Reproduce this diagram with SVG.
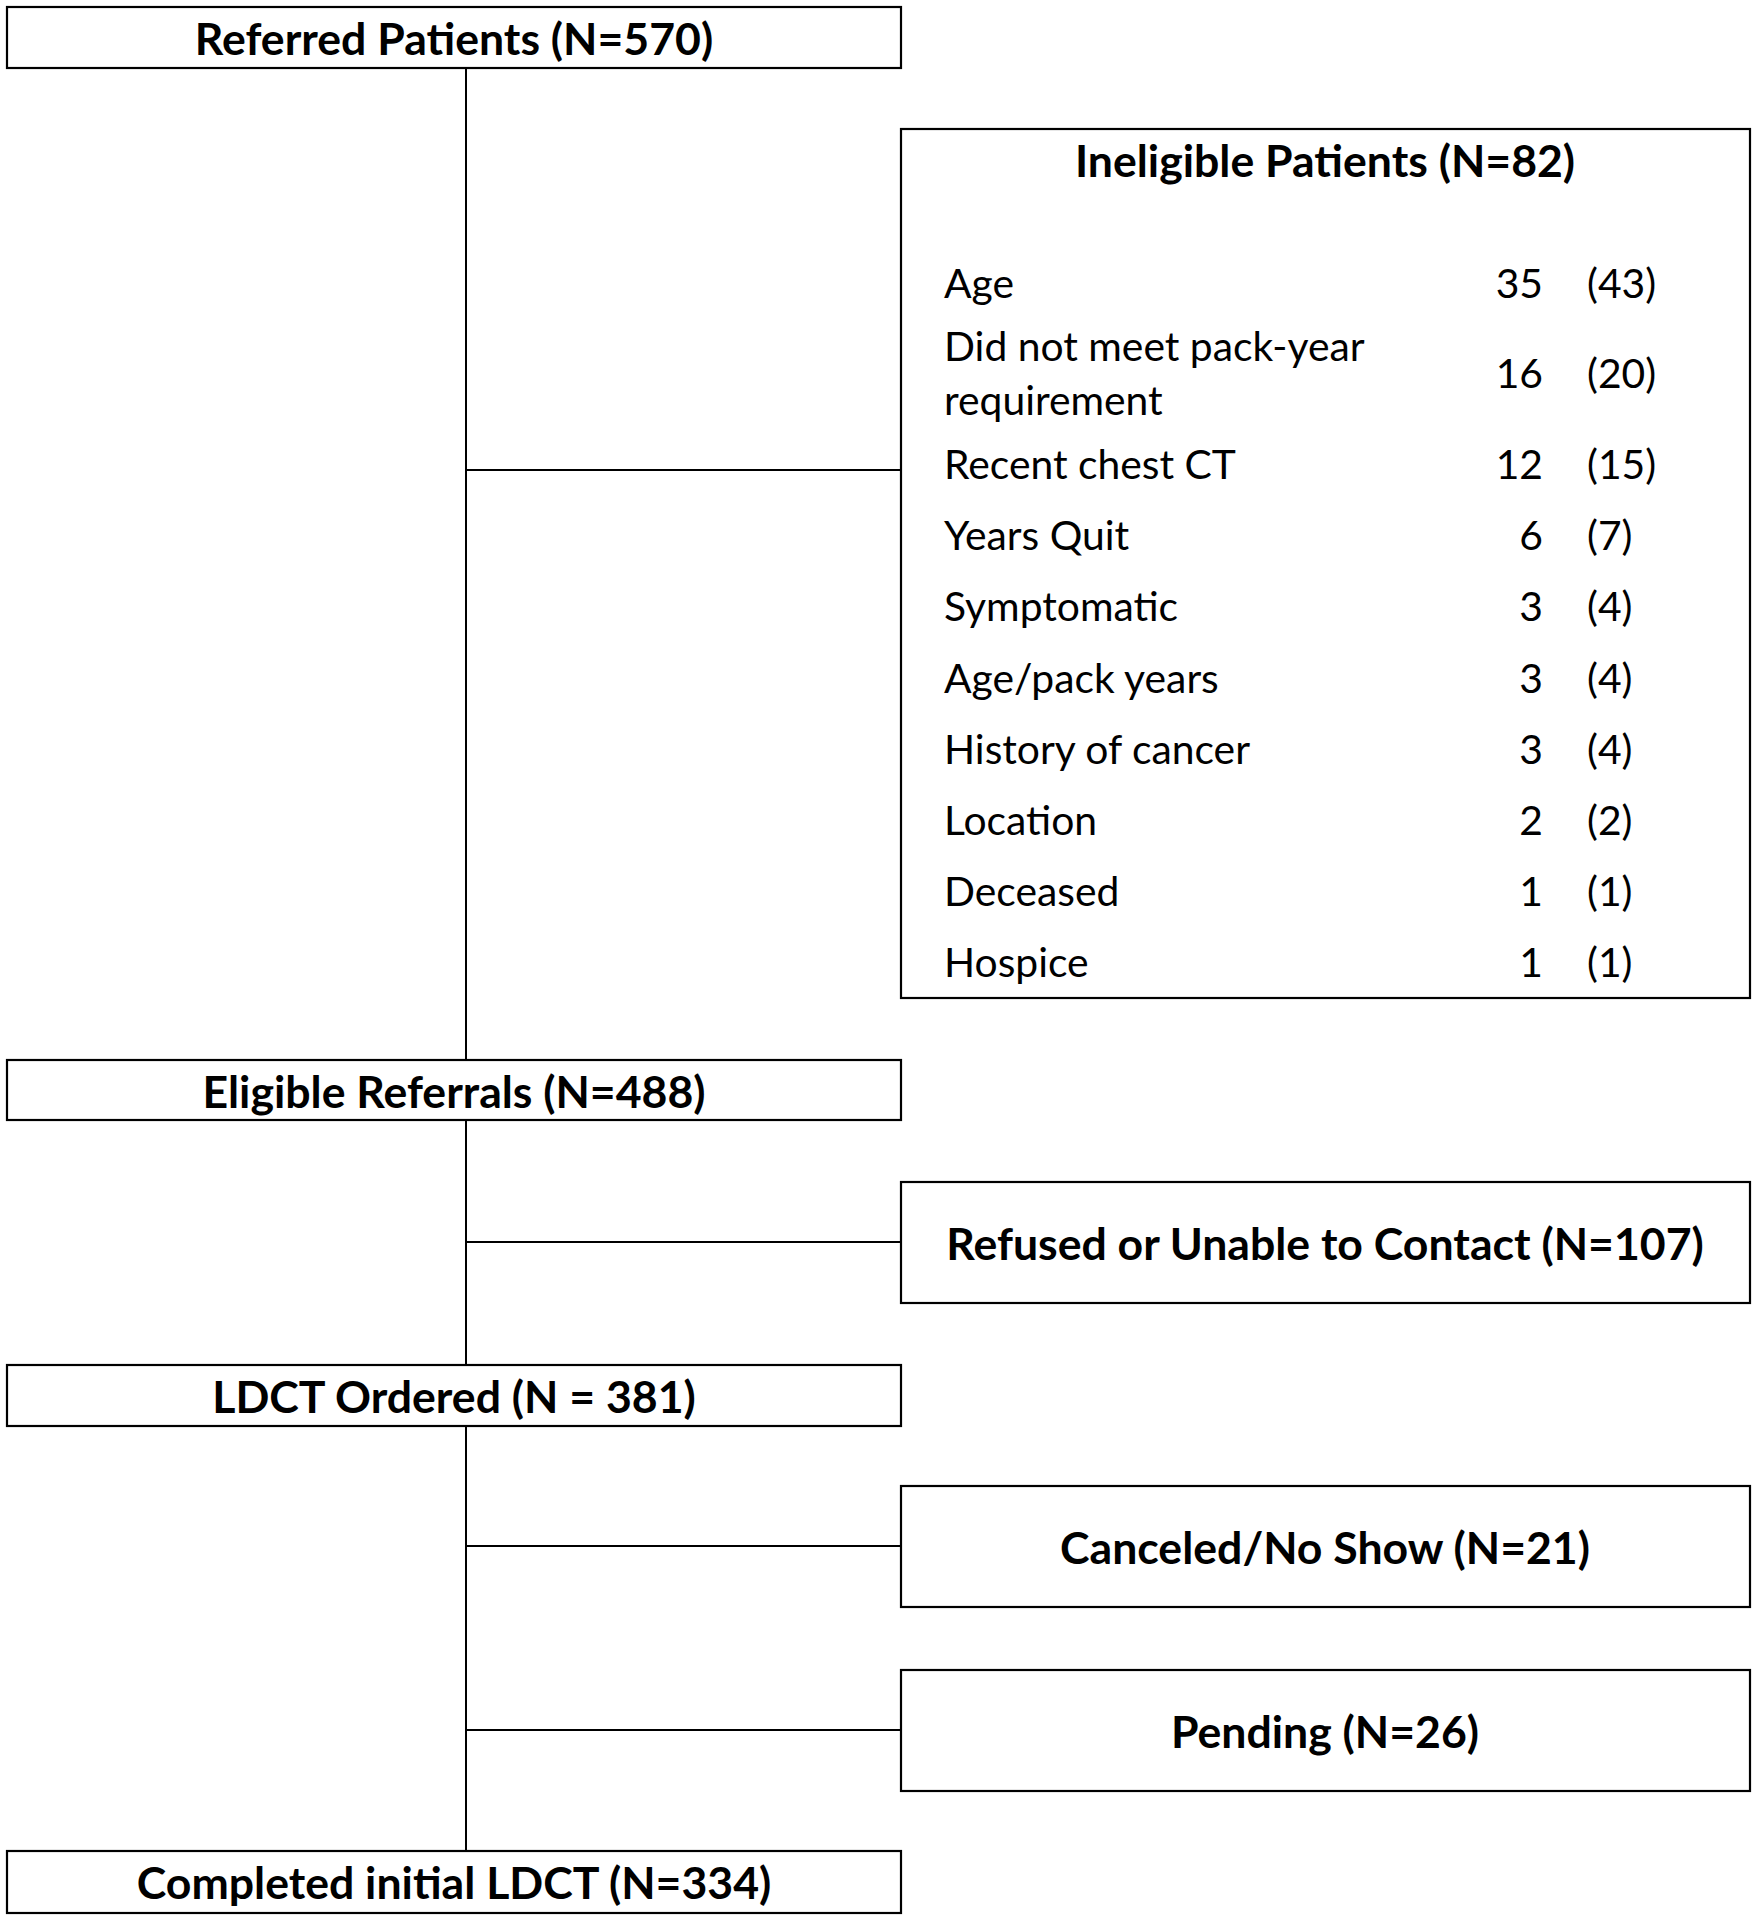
<svg xmlns="http://www.w3.org/2000/svg" width="1758" height="1920" viewBox="0 0 1758 1920">
<style>
.box{fill:#fff;stroke:#000;stroke-width:2.2}
.t{font-family:Lato,"Liberation Sans",sans-serif;font-weight:bold;font-size:44.6px;fill:#000;text-anchor:middle}
.b{font-family:Lato,"Liberation Sans",sans-serif;font-size:40.8px;fill:#000}
.n{text-anchor:end}
.line{stroke:#000;stroke-width:2;fill:none}
</style>
<rect width="1758" height="1920" fill="#fff"/>
<g id="connectors">
<path class="line" d="M466 68V1060M466 1120V1365M466 1426V1851M466 470H901M466 1242H901M466 1546H901M466 1730H901"/>
</g>
<g id="referred"><rect class="box" x="7" y="7" width="894" height="61"/><text class="t" x="454" y="55">Referred Patients (N=570)</text></g>
<g id="ineligible">
<rect class="box" x="901" y="129" width="849" height="869"/>
<text class="t" x="1325" y="177">Ineligible Patients (N=82)</text>
<text class="b" x="944" y="298">Age</text><text class="b n" x="1543" y="298">35</text><text class="b" x="1587" y="298">(43)</text>
<text class="b" x="944" y="361">Did not meet pack-year</text><text class="b" x="944" y="415">requirement</text><text class="b n" x="1543" y="388">16</text><text class="b" x="1587" y="388">(20)</text>
<text class="b" x="944" y="479">Recent chest CT</text><text class="b n" x="1543" y="479">12</text><text class="b" x="1587" y="479">(15)</text>
<text class="b" x="944" y="550">Years Quit</text><text class="b n" x="1543" y="550">6</text><text class="b" x="1587" y="550">(7)</text>
<text class="b" x="944" y="621">Symptomatic</text><text class="b n" x="1543" y="621">3</text><text class="b" x="1587" y="621">(4)</text>
<text class="b" x="944" y="693">Age/pack years</text><text class="b n" x="1543" y="693">3</text><text class="b" x="1587" y="693">(4)</text>
<text class="b" x="944" y="764">History of cancer</text><text class="b n" x="1543" y="764">3</text><text class="b" x="1587" y="764">(4)</text>
<text class="b" x="944" y="835">Location</text><text class="b n" x="1543" y="835">2</text><text class="b" x="1587" y="835">(2)</text>
<text class="b" x="944" y="906">Deceased</text><text class="b n" x="1543" y="906">1</text><text class="b" x="1587" y="906">(1)</text>
<text class="b" x="944" y="977">Hospice</text><text class="b n" x="1543" y="977">1</text><text class="b" x="1587" y="977">(1)</text>
</g>
<g id="eligible"><rect class="box" x="7" y="1060" width="894" height="60"/><text class="t" x="454" y="1108">Eligible Referrals (N=488)</text></g>
<g id="refused"><rect class="box" x="901" y="1182" width="849" height="121"/><text class="t" x="1325" y="1260">Refused or Unable to Contact (N=107)</text></g>
<g id="ldct"><rect class="box" x="7" y="1365" width="894" height="61"/><text class="t" x="454" y="1413">LDCT Ordered (N = 381)</text></g>
<g id="canceled"><rect class="box" x="901" y="1486" width="849" height="121"/><text class="t" x="1325" y="1564">Canceled/No Show (N=21)</text></g>
<g id="pending"><rect class="box" x="901" y="1670" width="849" height="121"/><text class="t" x="1325" y="1748">Pending (N=26)</text></g>
<g id="completed"><rect class="box" x="7" y="1851" width="894" height="62"/><text class="t" x="454" y="1899">Completed initial LDCT (N=334)</text></g>
</svg>
